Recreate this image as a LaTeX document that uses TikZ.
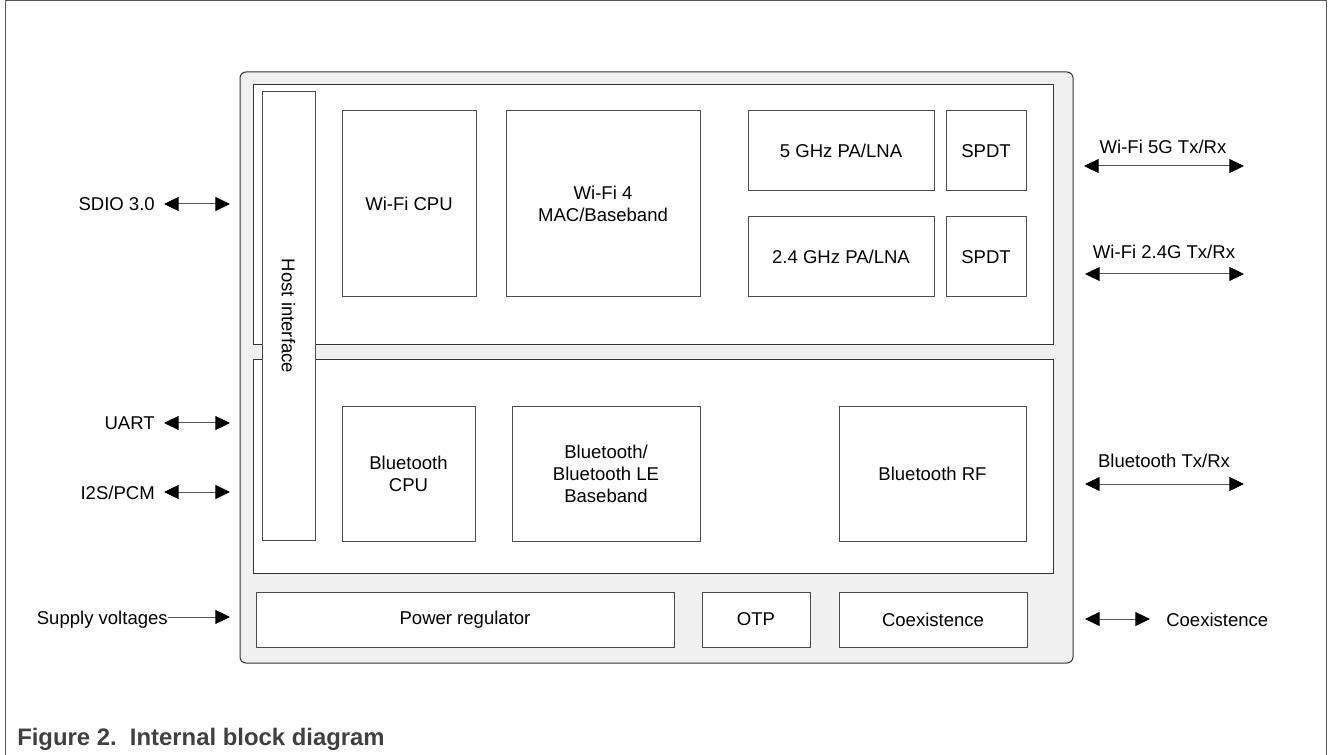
\documentclass[tikz,border=0pt]{standalone}
\usepackage{fontspec}
\setmainfont{Liberation Sans}
\usetikzlibrary{arrows.meta,fit,positioning}

\tikzset{
  txt/.style={font=\fontsize{13.9}{16.5}\selectfont},
  blk/.style={draw=black!70, fill=white, line width=0.75pt, inner sep=0pt},
  panel/.style={draw=black!80, fill=white, line width=0.75pt, inner sep=0pt},
  lbl/.style={txt, inner sep=0pt, align=center},
  io/.style={draw=black!65, line width=0.75pt, {Triangle[length=11pt,width=10.5pt,color=black]}-{Triangle[length=11pt,width=10.5pt,color=black]}},
  feed/.style={draw=black!65, line width=0.75pt, -{Triangle[length=11pt,width=10.5pt,color=black]}}
}

\begin{document}
\begin{tikzpicture}[x=0.75pt,y=-0.75pt]
  \useasboundingbox (0,0) rectangle (1328,755);
  % page frame
  \draw[black!65, line width=0.75pt] (5,755) -- (5,1) -- (1326,1) -- (1326,755);

  % chip outline
  \draw[draw=black!80, fill=black!6, line width=0.75pt, rounded corners=4.5pt] (240,72) rectangle (1073,663);
  \node[panel, fit={(253,85) (1053,345)}] (wifi) {};
  \node[panel, fit={(253,360) (1053,573)}] (bt) {};
  \node[blk, fit={(262,92) (315,540)}] (host) {};
  \node[lbl, rotate=-90] at (host.center) {Host interface};

  % Wi-Fi blocks
  \node[blk, fit={(342,111) (476,297)}] (wcpu) {};
  \node[blk, fit={(506,111) (700,297)}] (wmac) {};
  \node[blk, fit={(748,111) (934,191)}] (pa5) {};
  \node[blk, fit={(946,111) (1026,191)}] (sw5) {};
  \node[blk, fit={(748,217) (934,297)}] (pa24) {};
  \node[blk, fit={(946,217) (1026,297)}] (sw24) {};
  \node[lbl] at (wcpu.center) {Wi-Fi CPU};
  \node[lbl] at (wmac.center) {Wi-Fi 4\\MAC/Baseband};
  \node[lbl] at (pa5.center) {5 GHz PA/LNA};
  \node[lbl] at (sw5.center) {SPDT};
  \node[lbl] at (pa24.center) {2.4 GHz PA/LNA};
  \node[lbl] at (sw24.center) {SPDT};

  % Bluetooth blocks
  \node[blk, fit={(342,407) (475,541)}] (bcpu) {};
  \node[blk, fit={(512,407) (700,541)}] (bbb) {};
  \node[blk, fit={(839,407) (1026,541)}] (brf) {};
  \node[lbl] at (bcpu.center) {Bluetooth\\CPU};
  \node[lbl] at (bbb.center) {Bluetooth/\\Bluetooth LE\\Baseband};
  \node[lbl] at (brf.center) {Bluetooth RF};

  % bottom row
  \node[blk, fit={(256,592) (674,647)}] (pwr) {};
  \node[blk, fit={(702,592) (810,647)}] (otp) {};
  \node[blk, fit={(839,592) (1027,647)}] (coex) {};
  \node[lbl] at (pwr.center) {Power regulator};
  \node[lbl] at (otp.center) {OTP};
  \node[lbl] at (coex.center) {Coexistence};

  % left side signals
  \node[lbl, anchor=base east] (sdio) at (155,211) {SDIO 3.0};
  \node[lbl, anchor=base east] (uart) at (155,430) {UART};
  \node[lbl, anchor=base east] (i2s) at (155,499) {I2S/PCM};
  \node[lbl, anchor=base east] (sply) at (168,624) {Supply voltages};
  \coordinate (sdioA) at (164,204); \coordinate (sdioB) at (230,204);
  \coordinate (uartA) at (164,423); \coordinate (uartB) at (230,423);
  \coordinate (i2sA) at (164,492);  \coordinate (i2sB) at (230,492);
  \coordinate (splyA) at (168,617); \coordinate (splyB) at (230,617);
  \draw[io] (sdioA) -- (sdioB);
  \draw[io] (uartA) -- (uartB);
  \draw[io] (i2sA) -- (i2sB);
  \draw[feed] (splyA) -- (splyB);

  % right side signals
  \coordinate (rf5A) at (1084,166);  \coordinate (rf5B) at (1244,166);
  \coordinate (rf24A) at (1085,274); \coordinate (rf24B) at (1244,274);
  \coordinate (btA) at (1085,484);   \coordinate (btB) at (1244,484);
  \coordinate (cxA) at (1085,619);   \coordinate (cxB) at (1150,619);
  \draw[io] (rf5A) -- (rf5B);
  \draw[io] (rf24A) -- (rf24B);
  \draw[io] (btA) -- (btB);
  \draw[io] (cxA) -- (cxB);
  \node[lbl, anchor=base] (rf5) at (1163,154) {Wi-Fi 5G Tx/Rx};
  \node[lbl, anchor=base] (rf24) at (1164,259) {Wi-Fi 2.4G Tx/Rx};
  \node[lbl, anchor=base] (btrx) at (1164,468) {Bluetooth Tx/Rx};
  \node[lbl, anchor=base west] (cxtxt) at (1166,626) {Coexistence};

  % caption
  \node[inner sep=0pt, anchor=base west, text=black!75, font=\fontsize{17.9}{21}\selectfont\bfseries] (cap) at (17,745) {Figure 2.\ \ Internal block diagram};
\end{tikzpicture}
\end{document}
